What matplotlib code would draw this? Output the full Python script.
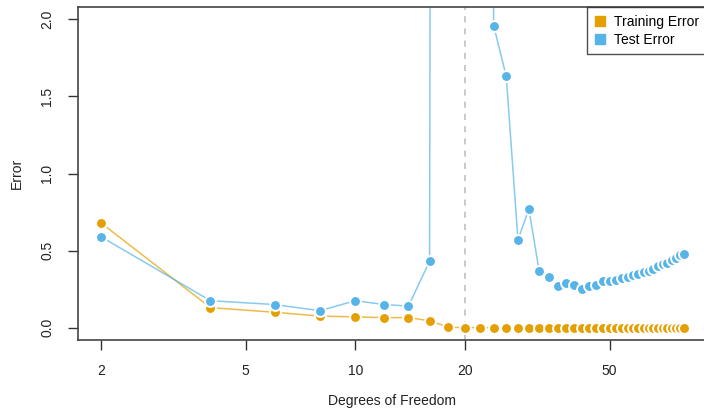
import matplotlib
matplotlib.use("Agg")
import matplotlib.pyplot as plt
from matplotlib.lines import Line2D
from matplotlib.ticker import FixedLocator, NullLocator

plt.rcParams['font.family'] = ['Liberation Sans', 'DejaVu Sans']

# Data
df = [2, 4, 6, 8, 10, 12, 14, 16, 18, 20, 22, 24, 26, 28, 30, 32, 34, 36, 38, 40,
      42, 44, 46, 48, 50, 52, 54, 56, 58, 60, 62, 64, 66, 68, 70, 72, 74, 76, 78, 80]
train_err = [0.68, 0.13, 0.10, 0.075, 0.07, 0.065, 0.065, 0.045, 0.003, 0.0,
             0.0, 0.0, 0.0, 0.0, 0.0, 0.0, 0.0, 0.0, 0.0, 0.0,
             0.0, 0.0, 0.0, 0.0, 0.0, 0.0, 0.0, 0.0, 0.0, 0.0,
             0.0, 0.0, 0.0, 0.0, 0.0, 0.0, 0.0, 0.0, 0.0, 0.0]
test_err = [0.59, 0.175, 0.15, 0.11, 0.175, 0.15, 0.14, 0.43, 60.0, 300.0,
            80.0, 1.96, 1.63, 0.57, 0.77, 0.37, 0.33, 0.27, 0.29, 0.28,
            0.25, 0.27, 0.28, 0.30, 0.30, 0.31, 0.32, 0.33, 0.34, 0.35,
            0.36, 0.37, 0.38, 0.40, 0.41, 0.42, 0.44, 0.45, 0.47, 0.48]
xticks = [2, 5, 10, 20, 50]
yticks = [0.0, 0.5, 1.0, 1.5, 2.0]
interp_line = 20

orange = '#E69F00'
blue = '#56B4E9'

fig = plt.figure(figsize=(7.04, 4.12), dpi=100)
ax = fig.add_axes([78 / 704, 72 / 412, 629 / 704, 333 / 412])

ax.axvline(interp_line, color='#bbbbbb', ls=(0, (4, 4)), lw=1.1, zorder=1)

for y, c in [(train_err, orange), (test_err, blue)]:
    ax.plot(df, y, color=c, lw=1.1, alpha=0.7, zorder=2)
    ax.plot(df, y, ls='none', marker='o', ms=7.8, mfc=c, mec='white',
            mew=1.4, zorder=3)

ax.set_xscale('log')
ax.set_xlim(1.73, 92.6)
ax.set_ylim(-0.08, 2.08)
ax.xaxis.set_major_locator(FixedLocator(xticks))
ax.xaxis.set_minor_locator(NullLocator())
ax.set_xticklabels([str(t) for t in xticks])
ax.set_yticks(yticks)
ax.set_yticklabels(['%.1f' % t for t in yticks], rotation=90, va='center')
ax.tick_params(axis='both', direction='out', length=7, width=1, color='#333333',
               labelsize=10, labelcolor='#222222', pad=10)
for s in ax.spines.values():
    s.set_color('#444444')
    s.set_linewidth(1.2)

ax.set_xlabel('Degrees of Freedom', fontsize=10, color='#222222', labelpad=12)
ax.set_ylabel('Error', fontsize=10, color='#222222', labelpad=12)

handles = [Line2D([], [], ls='none', marker='s', ms=6.5, mfc=orange, mec=orange),
           Line2D([], [], ls='none', marker='s', ms=6.5, mfc=blue, mec=blue)]
leg = ax.legend(handles, ['Training Error', 'Test Error'], loc='upper right',
                bbox_to_anchor=(1.0, 1.0), fontsize=10, frameon=True, fancybox=False,
                handlelength=0.8, handletextpad=0.6, borderpad=0.55, labelspacing=0.3,
                borderaxespad=0)
leg.get_frame().set_edgecolor('#222222')
leg.get_frame().set_linewidth(1.0)

fig.savefig('out.png', dpi=100)
